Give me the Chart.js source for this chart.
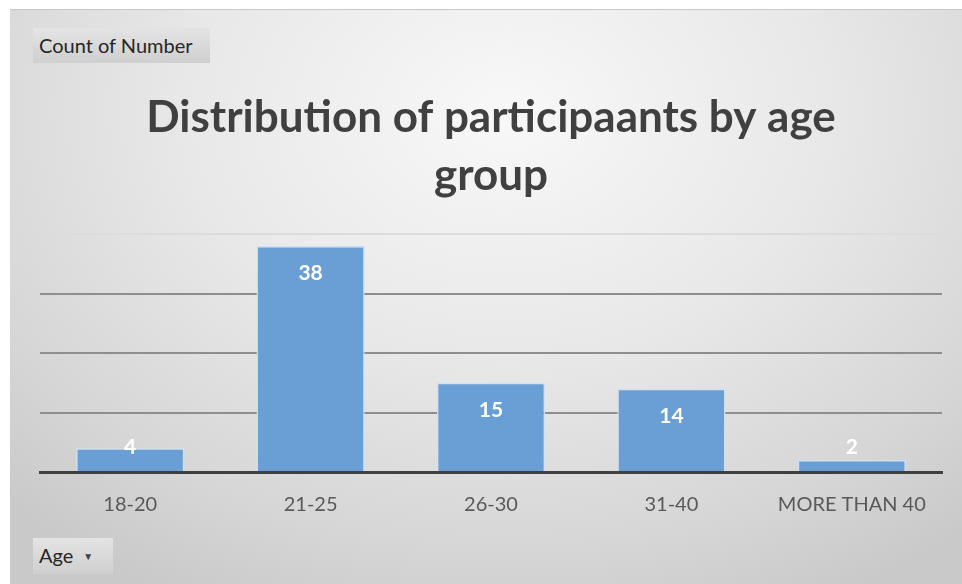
<!DOCTYPE html>
<html>
<head>
<meta charset="utf-8">
<script src="https://cdn.jsdelivr.net/npm/chart.js@4.4.0/dist/chart.umd.min.js"></script>
<style>
  html, body { margin: 0; padding: 0; background: #fff; }
  body { width: 962px; height: 584px; position: relative; overflow: hidden; font-family: Lato, sans-serif; }
  #frame {
    position: absolute; left: 10px; top: 9px; width: 952px; height: 575px;
    border-top: 1px solid #c8c8c8;
    box-sizing: border-box;
    background: radial-gradient(ellipse 75% 95% at 52% 18%, #f8f8f8 0%, #e8e8e8 45%, #d6d6d6 80%, #c9c9c9 100%);
  }
  #chartBox { position: absolute; left: 0; top: 0; width: 952px; height: 574px; }
  .pivotBtn {
    position: absolute; box-sizing: border-box;
    background: linear-gradient(#e4e4e4, #cfcfcf);
    color: #262626; font-size: 20px; line-height: 35px; padding-left: 6px;
  }
  #countBtn { left: 23px; top: 18px; width: 177px; height: 35px; }
  #ageBtn { left: 23px; top: 528px; width: 80px; height: 36px; }
  #ageBtn span { font-size: 10px; margin-left: 10px; color: #444; vertical-align: 3px; }
</style>
</head>
<body>
<div id="frame">
  <div id="chartBox"><canvas id="ageChart"></canvas></div>
  <div class="pivotBtn" id="countBtn">Count of Number</div>
  <div class="pivotBtn" id="ageBtn">Age<span>&#9660;</span></div>
</div>
<script>
  // data
  const ageGroups = ['18-20', '21-25', '26-30', '31-40', 'MORE THAN 40'];
  const counts = [4, 38, 15, 14, 2];
  const titleLines = ['Distribution of participaants by age', 'group'];

  // white value labels near the top of each bar
  const valueLabels = {
    id: 'valueLabels',
    afterDatasetsDraw(chart) {
      const ctx = chart.ctx;
      const meta = chart.getDatasetMeta(0);
      ctx.save();
      ctx.fillStyle = '#ffffff';
      ctx.font = 'bold 21px Lato';
      ctx.textAlign = 'center';
      ctx.textBaseline = 'middle';
      meta.data.forEach((bar, i) => {
        const y = Math.min(bar.y + 27, bar.base - 24);
        ctx.fillText(String(counts[i]), bar.x, y);
      });
      ctx.restore();
    }
  };

  new Chart(document.getElementById('ageChart'), {
    type: 'bar',
    data: {
      labels: ageGroups,
      datasets: [{
        label: 'Count of Number',
        data: counts,
        backgroundColor: '#6a9fd6',
        borderColor: '#cfe1f3',
        borderWidth: 1.5,
        barPercentage: 0.6,
        categoryPercentage: 1.0
      }]
    },
    options: {
      responsive: true,
      maintainAspectRatio: false,
      animation: false,
      layout: { padding: { left: 30, right: 20, top: 0, bottom: 46 } },
      plugins: {
        legend: { display: false },
        tooltip: { enabled: false },
        title: {
          display: true,
          text: titleLines,
          color: '#404040',
          font: { family: 'Lato', size: 44, weight: 'bold', lineHeight: 1.32 },
          padding: { top: 79, bottom: 29 }
        }
      },
      scales: {
        x: {
          grid: { display: false, drawTicks: false },
          border: { display: true, color: '#404040', width: 3 },
          ticks: { color: '#595959', font: { family: 'Lato', size: 20 }, padding: 21 }
        },
        y: {
          min: 0,
          max: 40,
          ticks: { display: false, stepSize: 10 },
          border: { display: false },
          grid: {
            drawTicks: false,
            lineWidth: 2,
            color: c => c.tick.value === 40 ? '#dcdcdc' : (c.tick.value === 0 ? 'rgba(0,0,0,0)' : '#8e8e8e')
          }
        }
      }
    },
    plugins: [valueLabels]
  });
</script>
</body>
</html>
